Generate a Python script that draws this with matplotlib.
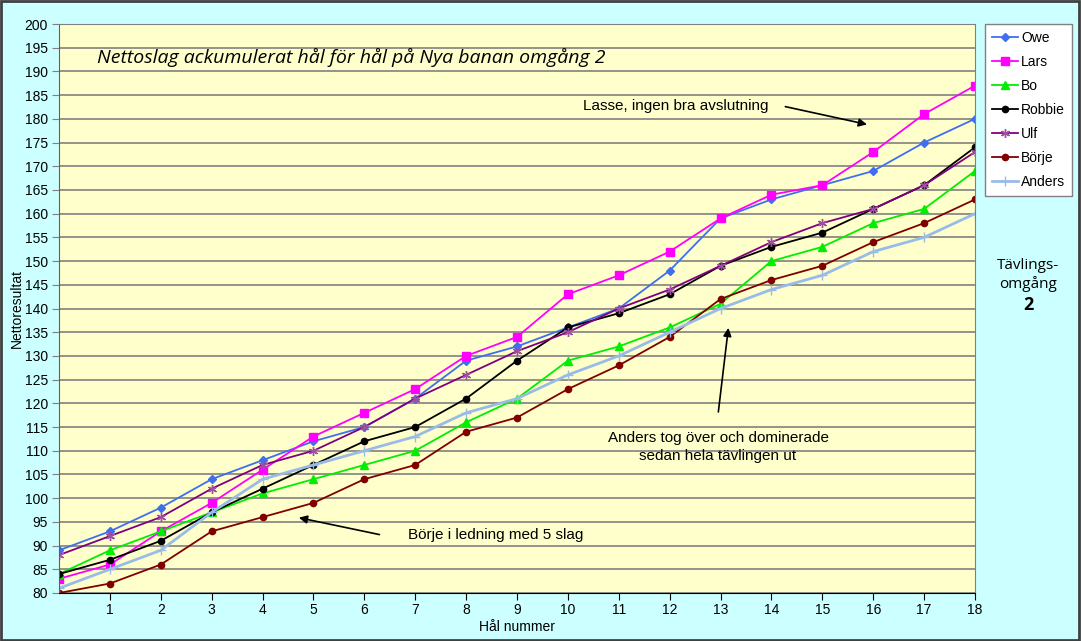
import matplotlib
matplotlib.use('Agg')
import matplotlib.pyplot as plt
from matplotlib.patches import Rectangle

plt.rcParams['font.family'] = ['Liberation Sans', 'DejaVu Sans']
plt.rcParams['font.size'] = 10

holes = list(range(19))
owe = [89, 93, 98, 104, 108, 112, 115, 121, 129, 132, 136, 140, 148, 159, 163, 166, 169, 175, 180]
lars = [83, 86, 93, 99, 106, 113, 118, 123, 130, 134, 143, 147, 152, 159, 164, 166, 173, 181, 187]
bo = [84, 89, 93, 97, 101, 104, 107, 110, 116, 121, 129, 132, 136, 141, 150, 153, 158, 161, 169]
robbie = [84, 87, 91, 97, 102, 107, 112, 115, 121, 129, 136, 139, 143, 149, 153, 156, 161, 166, 174]
ulf = [88, 92, 96, 102, 107, 110, 115, 121, 126, 131, 135, 140, 144, 149, 154, 158, 161, 166, 173]
borje = [80, 82, 86, 93, 96, 99, 104, 107, 114, 117, 123, 128, 134, 142, 146, 149, 154, 158, 163]
anders = [81, 85, 89, 97, 104, 107, 110, 113, 118, 121, 126, 130, 135, 140, 144, 147, 152, 155, 160]

xticks = list(range(1, 19))
yticks = list(range(80, 201, 5))

fig = plt.figure(figsize=(10.81, 6.41), dpi=100, facecolor='#CCFFFF')
ax = fig.add_axes([59 / 1081, 1 - 593 / 641, (975 - 59) / 1081, (593 - 24) / 641])
ax.set_facecolor('#FFFFCC')

ax.plot(holes, owe, color='#3F6FF0', marker='D', markersize=3.8, linewidth=1.3, label='Owe')
ax.plot(holes, lars, color='#FF00FF', marker='s', markersize=5.5, linewidth=1.3, label='Lars')
ax.plot(holes, bo, color='#00EE00', marker='^', markersize=5.5, linewidth=1.3, label='Bo')
ax.plot(holes, robbie, color='black', marker='o', markersize=4.5, linewidth=1.3, label='Robbie')
ax.plot(holes, ulf, color='#800080', marker=(6, 2, 0), markersize=6.5, markeredgecolor='#A050A0',
        markeredgewidth=1, linewidth=1.3, label='Ulf')
ax.plot(holes, borje, color='#800000', marker='o', markersize=4.5, linewidth=1.3, label='Börje')
ax.plot(holes, anders, color='#99BBE8', marker='+', markersize=6.5, markeredgewidth=1,
        linewidth=2, label='Anders')

ax.set_xlim(0, 18)
ax.set_ylim(80, 200)
ax.set_xticks(xticks)
ax.set_yticks(yticks)
ax.yaxis.grid(True, color='#808080', linewidth=1.2)
ax.set_axisbelow(True)
ax.tick_params(axis='x', length=5, direction='out', pad=2, color='black')
ax.tick_params(axis='y', length=5, direction='out', pad=3, color='#808080')
for s in ['top', 'right']:
    ax.spines[s].set_color('#808080')
ax.spines['left'].set_color('#606060')
ax.spines['bottom'].set_color('black')

ax.set_ylabel('Nettoresultat')
ax.yaxis.set_label_coords(-35 / 916, 0.5)
ax.set_xlabel('Hål nummer')
ax.xaxis.set_label_coords(0.5, -27 / 569)

ax.text(0.75, 193, 'Nettoslag ackumulerat hål för hål på Nya banan omgång 2',
        fontsize=14, style='italic', family=['Open Sans', 'DejaVu Sans'], va='center')

ax.annotate('', xy=(15.93, 178.7), xytext=(14.22, 182.7),
            arrowprops=dict(arrowstyle='-|>', color='black', lw=1.2, mutation_scale=12))
ax.text(13.95, 182.8, 'Lasse, ingen bra avslutning', fontsize=11, ha='right', va='center')

ax.annotate('', xy=(13.16, 136.5), xytext=(12.95, 117.6),
            arrowprops=dict(arrowstyle='-|>', color='black', lw=1.2, mutation_scale=12))
ax.text(12.95, 110.8, 'Anders tog över och dominerade\nsedan hela tävlingen ut', fontsize=11,
        ha='center', va='center', linespacing=1.4)

ax.annotate('', xy=(4.66, 96.0), xytext=(6.35, 92.2),
            arrowprops=dict(arrowstyle='-|>', color='black', lw=1.2, mutation_scale=12))
ax.text(6.85, 92.2, 'Börje i ledning med 5 slag', fontsize=11, ha='left', va='center')

leg = fig.legend(loc='upper left', bbox_to_anchor=(985 / 1081, 1 - 24 / 641), frameon=True,
                 fancybox=False, edgecolor='#808080', facecolor='white', framealpha=1,
                 borderpad=0.5, borderaxespad=0, labelspacing=0.72, handlelength=1.9,
                 handletextpad=0.2, fontsize=10)
leg.get_frame().set_linewidth(1)

fig.text(1028 / 1081, 1 - 275 / 641, 'Tävlings-\nomgång', ha='center', va='center',
         fontsize=11, family=['Open Sans', 'DejaVu Sans'], linespacing=1.3)
fig.text(1028 / 1081, 1 - 305 / 641, '2', ha='center', va='center', fontsize=13,
         fontweight='bold', family=['Open Sans', 'DejaVu Sans'])

fig.patches.append(Rectangle((0.001, 0.002), 0.997, 0.996, transform=fig.transFigure,
                             fill=False, edgecolor='#404040', linewidth=2))

fig.savefig('out.png', dpi=100, facecolor=fig.get_facecolor())
